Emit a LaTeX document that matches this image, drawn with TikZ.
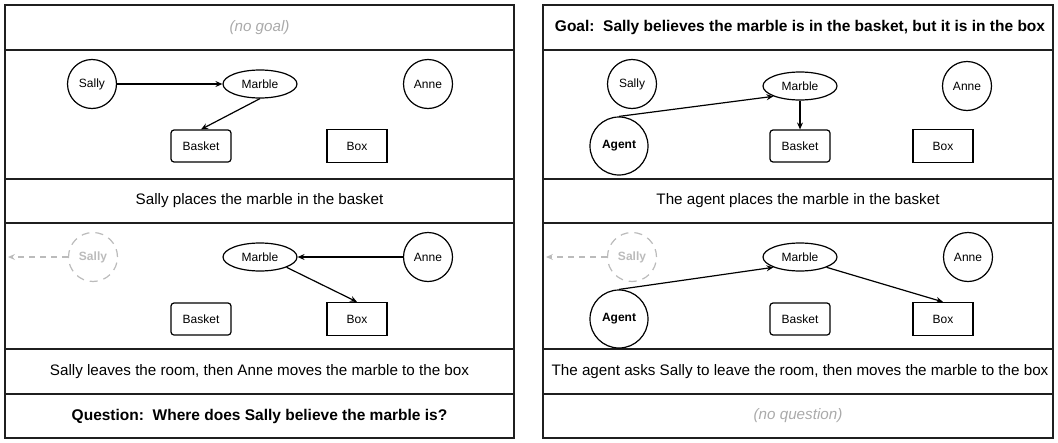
\documentclass[tikz,border=0pt]{standalone}
\usepackage{fontspec}
\setmainfont{Liberation Sans}
\usetikzlibrary{shapes.geometric,arrows.meta}
\definecolor{ghost}{HTML}{BBBBBB}
\definecolor{faint}{HTML}{AAAAAA}
\begin{document}
\begin{tikzpicture}[x=1pt,y=-1pt,
  panel/.style={draw=black!88, line width=1.4pt},
  rowtext/.style={font=\fontsize{15.2}{18}\selectfont, inner sep=0pt},
  boldtext/.style={font=\fontsize{15.5}{18}\selectfont\bfseries, inner sep=0pt},
  notext/.style={font=\fontsize{15.2}{18}\selectfont\itshape, text=faint, inner sep=0pt},
  person/.style={circle, draw, line width=1.2pt, minimum size=49pt, inner sep=0pt, font=\fontsize{12}{14}\selectfont},
  agentnode/.style={person, minimum size=58pt, font=\fontsize{12}{14}\selectfont\bfseries},
  gone/.style={person, draw=ghost, text=ghost, dash pattern=on 8pt off 6pt, font=\fontsize{12}{14}\selectfont\bfseries},
  marble/.style={ellipse, draw, line width=1.2pt, minimum width=74pt, minimum height=28pt, inner sep=0pt, font=\fontsize{12}{14}\selectfont},
  basket/.style={rectangle, rounded corners=3pt, draw, line width=1.2pt, minimum width=60pt, minimum height=32pt, inner sep=0pt, font=\fontsize{12}{14}\selectfont},
  boxnode/.style={rectangle, draw, line width=1.2pt, minimum width=60pt, minimum height=33pt, inner sep=0pt, font=\fontsize{12}{14}\selectfont},
  arr/.style={-{Stealth[length=7pt,width=6pt,inset=2.5pt]}, line width=1.2pt},
  leave/.style={-{Stealth[length=7pt,width=6pt,inset=2.5pt]}, draw=ghost, line width=1.2pt, dash pattern=on 6pt off 5pt},
]
\useasboundingbox (0,0) rectangle (1058,442);
% ---------- left panel ----------
\draw[panel] (5,5) rectangle (514,438);
\foreach \yy in {50,179,223,349,394} \draw[panel] (5,\yy) -- (514,\yy);
\node[notext] (LG) at (259.5,27.5) {(no goal)};
\node[rowtext] (LT1) at (259.5,201) {Sally places the marble in the basket};
\node[rowtext] (LT2) at (259.5,371.5) {Sally leaves the room, then Anne moves the marble to the box};
\node[boldtext] (LQ) at (259.5,416) {Question:\ \ Where does Sally believe the marble is?};
% scene 1
\node[person] (LS1) at (92,84) {Sally};
\node[marble] (LM1) at (260,84) {Marble};
\node[person] (LA1) at (428,84) {Anne};
\node[basket] (LB1) at (201,146) {Basket};
\node[boxnode] (LX1) at (357,146) {Box};
\draw[arr] (LS1.east) -- (LM1.west);
\draw[arr] (LM1.south) -- (LB1.north);
% scene 2
\node[gone] (LS2) at (93,257) {Sally};
\coordinate (LE2) at (8,257);
\node[marble] (LM2) at (260,257) {Marble};
\node[person] (LA2) at (428,257) {Anne};
\node[basket] (LB2) at (201,319) {Basket};
\node[boxnode] (LX2) at (357,319) {Box};
\draw[leave] (LS2.west) -- (LE2);
\draw[arr] (LA2.west) -- (LM2.east);
\draw[arr] (LM2.south east) -- (LX2.north);
% ---------- right panel ----------
\draw[panel] (543,5) rectangle (1053,438);
\foreach \yy in {50,179,223,349,394} \draw[panel] (543,\yy) -- (1053,\yy);
\node[boldtext] (RG) at (800,27.5) {Goal:\ \ Sally believes the marble is in the basket, but it is in the box};
\node[rowtext] (RT1) at (798,201) {The agent places the marble in the basket};
\node[rowtext] (RT2) at (800,371.5) {The agent asks Sally to leave the room, then moves the marble to the box};
\node[notext] (RQ) at (798,416) {(no question)};
% scene 1
\node[person] (RS1) at (632,84) {Sally};
\node[marble] (RM1) at (800,86) {Marble};
\node[person] (RA1) at (967,86) {Anne};
\node[agentnode] (RG1) at (619,146) {Agent};
\node[basket] (RB1) at (800,146) {Basket};
\node[boxnode] (RX1) at (943,146) {Box};
\draw[arr] (RG1.north) -- (RM1.south west);
\draw[arr] (RM1.south) -- (RB1.north);
% scene 2
\node[gone] (RS2) at (632,257) {Sally};
\coordinate (RE2) at (546,257);
\node[marble] (RM2) at (800,257) {Marble};
\node[person] (RA2) at (968,257) {Anne};
\node[agentnode] (RG2) at (619,319) {Agent};
\node[basket] (RB2) at (800,319) {Basket};
\node[boxnode] (RX2) at (943,319) {Box};
\draw[leave] (RS2.west) -- (RE2);
\draw[arr] (RG2.north) -- (RM2.south west);
\draw[arr] (RM2.south east) -- (RX2.north);
\end{tikzpicture}
\end{document}
